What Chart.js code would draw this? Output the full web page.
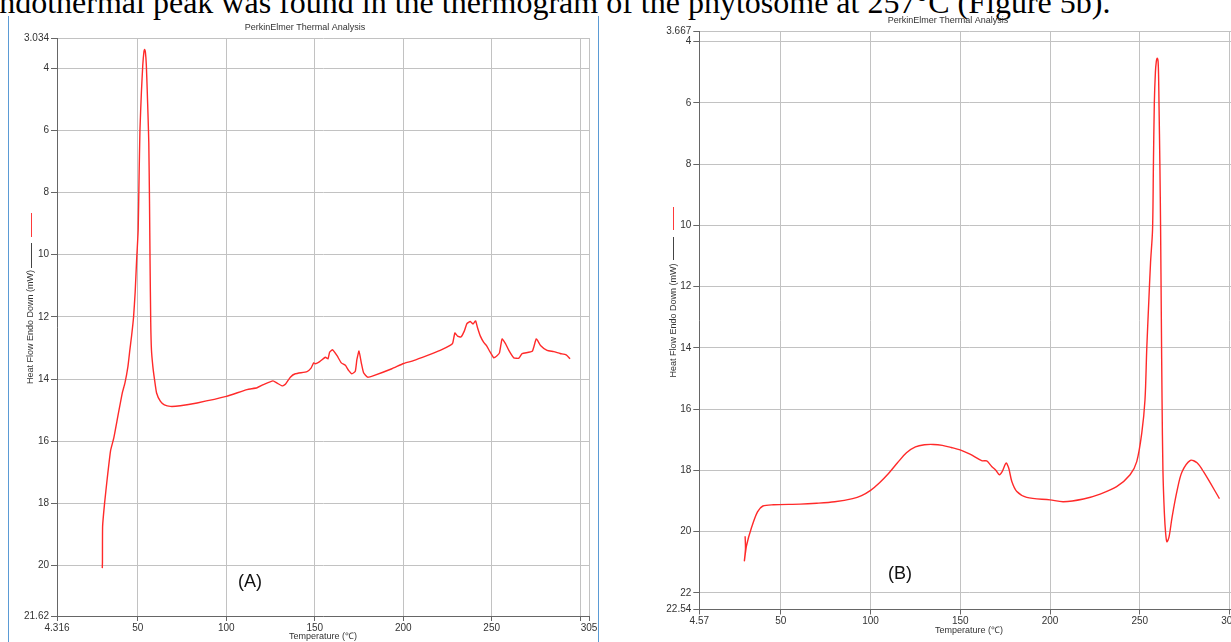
<!DOCTYPE html>
<html>
<head>
<meta charset="utf-8">
<script src="https://cdn.jsdelivr.net/npm/chart.js@4.4.0/dist/chart.umd.min.js"></script>
<style>
  body { margin: 0; width: 1231px; height: 642px; overflow: hidden; background: #fff; position: relative; font-family: Arial, "Liberation Sans", sans-serif; }
  canvas { position: absolute; top: 0; }
  #chartA { left: 0; }
  #chartB { left: 640px; }
  .para { position: absolute; left: -15px; top: -14px; font-family: "Liberation Serif", "Times New Roman", serif; font-size: 32px; line-height: 32px; white-space: nowrap; color: #000; }
  .frame { position: absolute; top: 16px; width: 1px; height: 626px; background: #5b9bd5; }
  .lab { position: absolute; font-size: 18px; color: #111; transform: translate(-50%, -50%); }
  .key { position: absolute; width: 1px; }
</style>
</head>
<body>
<div class="para">endothermal peak was found in the thermogram of the phytosome at 257°C (Figure 5b).</div>
<div class="frame" style="left:8px"></div>
<div class="frame" style="left:598px"></div>
<canvas id="chartA" width="610" height="660"></canvas>
<canvas id="chartB" width="612" height="660"></canvas>
<div class="key" style="left:31px; top:213px; height:24px; background:#ff3a3a"></div>
<div class="key" style="left:31px; top:243px; height:25px; background:#444"></div>
<div class="key" style="left:673px; top:207px; height:23px; background:#ff3a3a"></div>
<div class="key" style="left:673px; top:237px; height:23px; background:#444"></div>
<div class="lab" style="left:250px; top:581px">(A)</div>
<div class="lab" style="left:900px; top:573px">(B)</div>

<script>
// Sample (A) thermogram, temperature in degC and heat flow in mW
const tempA = [29.9, 30.0, 30.1, 31.2, 32.7, 34.6, 36.4, 38.7, 41.2, 42.7, 44.4, 45.5, 46.5, 47.6, 48.5, 49.3,
  50.2, 50.7, 51.2, 52.0, 52.8, 53.4, 53.8, 54.3, 54.8, 55.3, 55.8, 56.2, 56.6, 56.9, 57.3, 57.7, 58.5, 59.4,
  60.6, 62.8, 65.0, 68.4, 74, 83.5, 100, 111.7, 117.4, 121, 126.4, 128.7, 131.5, 133.4, 136.2, 139, 145.6,
  147.9, 149.4, 150.3, 152.8, 156, 157.5, 158.4, 160.1, 162.6, 165, 167.3, 169.1, 171, 172.9, 173.8, 175,
  176.3, 177.6, 179.9, 183.3, 193.6, 200.2, 205.8, 213.4, 220.9, 226.5, 228, 229.2, 230.7, 232.6, 234.5,
  236, 237.9, 239.4, 240.9, 242, 243.6, 245.5, 247, 248.9, 251.2, 253, 254.4, 255.9, 257.8, 259.7, 262.5,
  265.4, 267.2, 272.9, 275.2, 277.6, 281.3, 285.1, 288.7, 292.1, 294.3];
const heatA = [20.08, 19.9, 18.73, 18.0, 17.2, 16.3, 15.9, 15.2, 14.45, 14.13, 13.6, 13.06, 12.6, 12.0, 11.2, 10.2,
  9.2, 7.5, 6.0, 4.8, 3.9, 3.5, 3.4, 3.5, 3.9, 4.7, 5.6, 6.4, 8.3, 10.2, 12.2, 13.06, 13.6, 14.0,
  14.45, 14.72, 14.83, 14.88, 14.86, 14.77, 14.56, 14.34, 14.28, 14.18, 14.06, 14.13, 14.22, 14.17, 13.94, 13.83, 13.76,
  13.65, 13.48, 13.51, 13.44, 13.3, 13.35, 13.14, 13.06, 13.25, 13.48, 13.56, 13.72, 13.83, 13.75, 13.38, 13.1,
  13.48, 13.8, 13.94, 13.89, 13.67, 13.5, 13.41, 13.25, 13.08, 12.92, 12.84, 12.52, 12.62, 12.65, 12.46,
  12.22, 12.15, 12.23, 12.13, 12.35, 12.62, 12.82, 12.92, 13.11, 13.32, 13.25, 13.16, 12.71, 12.86, 13.08, 13.32,
  13.33, 13.18, 13.11, 12.71, 12.92, 13.08, 13.12, 13.18, 13.22, 13.35];
const xTicksA = [4.316, 50, 100, 150, 200, 250, 300, 305];
const xLabelsA = ['4.316', '50', '100', '150', '200', '250', '', '305'];
const yTicksA = [3.034, 4, 6, 8, 10, 12, 14, 16, 18, 20, 21.62];

// Sample (B) thermogram
const tempB = [30.1, 30.3, 29.7, 30.9, 33.8, 37, 40, 45.9, 60.8, 70, 80, 90, 95, 100, 105, 110, 115, 120, 125,
  130, 135, 140, 145, 149.9, 155.4, 161.9, 164.7, 167.5, 169.9, 171.8, 173.3, 175.5, 177, 178.7, 181.5, 187,
  200, 207.4, 218.6, 227.9, 237.1, 244.6, 248.3, 251.1, 252.9, 253.9, 255, 256, 257.1, 257.6, 258.1, 258.7,
  259.2, 259.7, 260.2, 260.5, 260.7, 261.2, 261.6, 262.0, 262.4, 262.9, 263.7, 264.4, 265.1, 266.3, 268,
  270.8, 273.5, 278.2, 281.9, 285.6, 294.4];
const heatB = [20.15, 20.55, 20.95, 20.45, 19.84, 19.35, 19.16, 19.12, 19.1, 19.07, 19.02, 18.92, 18.82, 18.65, 18.4, 18.1, 17.75, 17.42, 17.23,
  17.16, 17.15, 17.18, 17.25, 17.33, 17.47, 17.68, 17.69, 17.87, 18.0, 18.14, 18.04, 17.76, 17.93, 18.36, 18.69, 18.88,
  18.96, 19.02, 18.93, 18.77, 18.53, 18.14, 17.71, 16.78, 15.69, 14.0, 12.5, 11.2, 10.15, 8.0, 6.0, 5.0,
  4.65, 4.54, 4.65, 5.2, 6.0, 8.0, 10.15, 13.0, 15.69, 18.0, 19.4, 20.05, 20.33, 20.17, 19.52,
  18.65, 18.05, 17.67, 17.75, 18.05, 18.92];
const xTicksB = [4.57, 50, 100, 150, 200, 250, 300, 305];
const xLabelsB = ['4.57', '50', '100', '150', '200', '250', '300', ''];
const yTicksB = [3.667, 4, 6, 8, 10, 12, 14, 16, 18, 20, 22, 22.54];

Chart.defaults.font.family = 'Arial, "Liberation Sans", sans-serif';
Chart.defaults.color = '#333';

function makeChart(id, temps, heats, xTicks, xLabels, yTicks, lay) {
  const points = temps.map((t, i) => ({ x: t, y: heats[i] }));
  return new Chart(document.getElementById(id).getContext('2d'), {
    type: 'line',
    data: {
      datasets: [{
        data: points,
        borderColor: '#ff2a2a',
        borderWidth: 1.4,
        pointRadius: 0,
        tension: lay.tension,
        fill: false
      }]
    },
    options: {
      responsive: false,
      animation: false,
      devicePixelRatio: 1,
      layout: { padding: { left: lay.padLeft, right: lay.padRight, top: 0, bottom: 0 } },
      plugins: {
        legend: { display: false },
        tooltip: { enabled: false },
        title: {
          display: true,
          text: 'PerkinElmer Thermal Analysis',
          color: '#333',
          font: { size: 9, weight: 'normal' },
          padding: { top: lay.titleTop, bottom: lay.titleBottom }
        }
      },
      scales: {
        x: {
          type: 'linear',
          min: xTicks[0],
          max: xTicks[xTicks.length - 1],
          afterBuildTicks: s => { s.ticks = xTicks.map(v => ({ value: v })); },
          afterFit: s => { s.height = lay.xHeight; },
          ticks: { autoSkip: false, maxRotation: 0, padding: 1, font: { size: 10 }, color: '#333',
            callback: (v, i) => xLabels[i] },
          grid: { color: '#c2c2c2', tickColor: '#666', tickLength: 5 },
          border: { color: '#666' },
          title: { display: true, text: 'Temperature (℃)', color: '#333', font: { size: 9 },
            padding: { top: 0, bottom: lay.xTitleBottom } }
        },
        y: {
          type: 'linear',
          reverse: true,
          min: yTicks[0],
          max: yTicks[yTicks.length - 1],
          afterBuildTicks: s => { s.ticks = yTicks.map(v => ({ value: v })); },
          afterFit: s => { s.width = lay.yWidth; },
          ticks: { autoSkip: false, padding: 2, font: { size: 10 }, color: '#333',
            callback: (v, i) => String(yTicks[i]) },
          grid: { color: '#c2c2c2', tickColor: '#666', tickLength: 6 },
          border: { color: '#666' },
          title: { display: true, text: 'Heat Flow Endo Down (mW)', color: '#333', font: { size: 9 },
            padding: { top: lay.yTitleTop, bottom: 0 } }
        }
      }
    }
  });
}

document.addEventListener('DOMContentLoaded', function() {
  makeChart('chartA', tempA, heatA, xTicksA, xLabelsA, yTicksA,
    { padLeft: 21, padRight: 21, titleTop: 22.6, titleBottom: 4.6, xHeight: 44, xTitleBottom: 17.6,
      yWidth: 36, yTitleTop: 4.6, tension: 0.15 });
  makeChart('chartB', tempB, heatB, xTicksB, xLabelsB, yTicksB,
    { padLeft: 17.5, padRight: 13.5, titleTop: 15.6, titleBottom: 5.1, xHeight: 50.5, xTitleBottom: 23.6,
      yWidth: 41.8, yTitleTop: 11.1, tension: 0.3 });
});
</script>
</body>
</html>
